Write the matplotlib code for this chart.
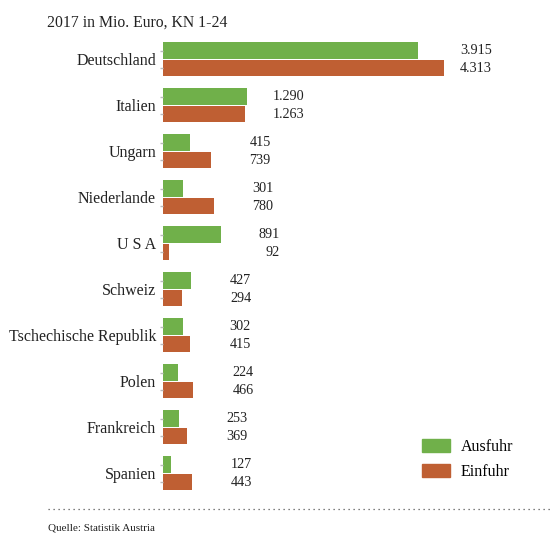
import matplotlib.pyplot as plt
from matplotlib.patches import Patch
from matplotlib.lines import Line2D
import numpy as np

plt.rcParams['font.family'] = ['Liberation Serif', 'DejaVu Serif']

# Daten
laender = ["Deutschland", "Italien", "Ungarn", "Niederlande", "U S A", "Schweiz",
           "Tschechische Republik", "Polen", "Frankreich", "Spanien"]
ausfuhr = [3915, 1290, 415, 301, 891, 427, 302, 224, 253, 127]
einfuhr = [4313, 1263, 739, 780, 92, 294, 415, 466, 369, 443]

gruen = "#70b04a"
orange = "#bf5f33"

fig = plt.figure(figsize=(5.51, 5.36), dpi=100)
ax = fig.add_axes([163 / 551, 1 - 496.3 / 536, 378 / 551, 460 / 536])

y = np.arange(len(laender))
h = 0.36
ax.barh(y - 0.19, ausfuhr, height=h, color=gruen)
ax.barh(y + 0.19, einfuhr, height=h, color=orange)

def fmt(v):
    return f"{v:,}".replace(",", ".")

# Werte rechtsbuendig neben den Balken
for i in range(len(laender)):
    x = 0.95 * max(ausfuhr[i], einfuhr[i]) + 950
    ax.text(x, i - 0.19, fmt(ausfuhr[i]), va="center", ha="right", fontsize=10.2, color="#222222")
    ax.text(x, i + 0.19, fmt(einfuhr[i]), va="center", ha="right", fontsize=10.2, color="#222222")

ax.set_xlim(0, 5800)
ax.set_ylim(len(laender) - 0.5, -0.5)
ax.set_yticks(y)
ax.set_yticklabels(laender, fontsize=11.5, color="#222222")
ax.tick_params(axis="y", length=0, pad=5)
ax.set_yticks(np.concatenate([y - 0.19, y + 0.19]), minor=True)
ax.tick_params(axis="y", which="minor", length=2, color="#bbbbbb", width=1)
ax.set_xticks([])
for s in ax.spines.values():
    s.set_visible(False)

fig.text(47 / 551, 1 - 27 / 536, "2017 in Mio. Euro, KN 1-24", fontsize=11.3,
         color="#222222", va="baseline")

handles = [Patch(color=gruen), Patch(color=orange)]
fig.legend(handles, ["Ausfuhr", "Einfuhr"], loc="upper left",
           bbox_to_anchor=(408 / 551, 1 - 425 / 536), frameon=False,
           fontsize=11.5, handlelength=1.7, handleheight=0.85,
           labelspacing=0.55, handletextpad=0.7)

fig.add_artist(Line2D([48 / 551, 1.0], [1 - 509 / 536] * 2, transform=fig.transFigure,
                      color="#555555", linestyle=(0, (1, 3)), linewidth=0.9))
fig.text(48 / 551, 1 - 530 / 536, "Quelle: Statistik Austria", fontsize=8,
         color="#222222", va="baseline")

fig.savefig("out.png", dpi=100)
